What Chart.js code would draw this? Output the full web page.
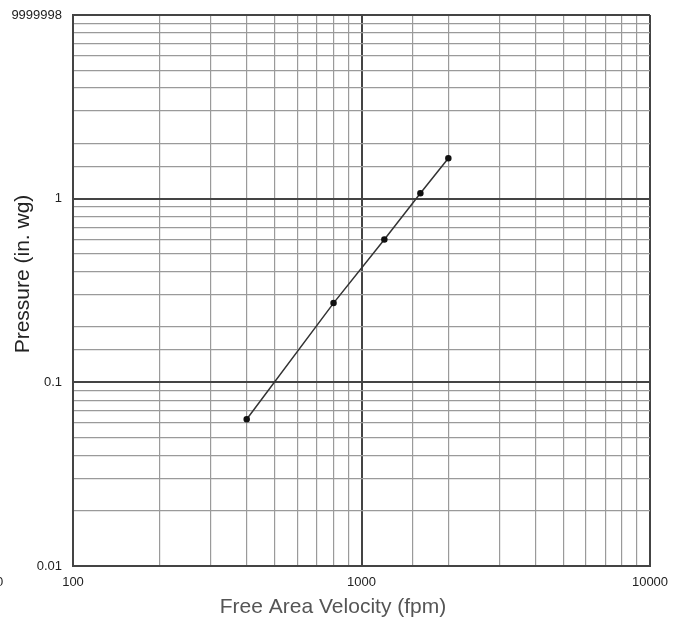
<!DOCTYPE html>
<html lang="en">
<head>
  <meta charset="UTF-8">
  <title>Pressure vs Free Area Velocity</title>
  <style>
    body { margin: 0; background: #fff; }
    canvas { display: block; }
  </style>
</head>
<body>
  <canvas id="pressureChart" width="681" height="621"></canvas>

  <script src="https://cdn.jsdelivr.net/npm/chart.js"></script>
  <script>
    // Free area velocity (fpm) and measured pressure drop (in. wg)
    const velocities = [400, 800, 1200, 1600, 2000];
    const pressures = [0.063, 0.27, 0.6, 1.07, 1.66];

    // Labelled ticks on each log axis
    const xTickLabels = { 100: '100', 1000: '1000', 10000: '10000' };
    const yTickLabels = { 0.01: '0.01', 0.1: '0.1', 1: '1', 10: '9999998' };

    const xTitle = 'Free Area Velocity (fpm)';
    const yTitle = 'Pressure (in. wg)';

    const isDecade = v => Math.abs(Math.log10(v) - Math.round(Math.log10(v))) < 1e-6;
    const labelFor = (map, v) => {
      for (const k in map) {
        if (Math.abs(Number(k) - v) / v < 1e-6) return map[k];
      }
      return '';
    };

    const family = 'Liberation Sans, Arial, sans-serif';
    const tickFont = { family: family, size: 13 };

    // axis titles sit off-centre from the plot, so they are drawn by hand
    const axisTitles = {
      id: 'axisTitles',
      afterDraw(chart) {
        const c = chart.ctx;
        c.save();
        c.font = '21px ' + family;
        c.textAlign = 'center';
        c.textBaseline = 'middle';
        c.fillStyle = '#555';
        c.fillText(xTitle, 333, 607);
        c.translate(23, 274);
        c.rotate(-Math.PI / 2);
        c.fillStyle = '#222';
        c.fillText(yTitle, 0, 0);
        c.restore();
        // clipped label stub at the far left edge
        c.save();
        c.font = '13px ' + family;
        c.fillStyle = '#222';
        c.textAlign = 'left';
        c.textBaseline = 'middle';
        c.fillText('0', -4, 582);
        c.restore();
      }
    };

    const ctx = document.getElementById('pressureChart').getContext('2d');

    new Chart(ctx, {
      type: 'line',
      data: {
        datasets: [{
          data: velocities.map((v, i) => ({ x: v, y: pressures[i] })),
          borderColor: '#333',
          borderWidth: 1.5,
          backgroundColor: '#111',
          pointRadius: 2.5,
          pointBorderColor: '#111',
          fill: false,
          tension: 0
        }]
      },
      options: {
        responsive: false,
        animation: false,
        layout: { padding: { top: 15, right: 31, left: 0, bottom: 0 } },
        plugins: {
          legend: { display: false },
          tooltip: { enabled: false }
        },
        scales: {
          x: {
            type: 'logarithmic',
            min: 100,
            max: 10000,
            afterFit: scale => { scale.height = 55; },
            grid: {
              color: c => isDecade(c.tick.value) ? '#444' : '#9a9a9a',
              lineWidth: c => isDecade(c.tick.value) ? 2 : 1.2,
              drawTicks: false
            },
            border: { color: '#444', width: 2 },
            ticks: {
              autoSkip: false,
              maxRotation: 0,
              padding: 9,
              color: '#222',
              font: tickFont,
              callback: v => labelFor(xTickLabels, v)
            }
          },
          y: {
            type: 'logarithmic',
            min: 0.01,
            max: 10,
            afterFit: scale => {
              scale.width = 73;
              scale.paddingTop = 0;
              scale.paddingBottom = 0;
            },
            grid: {
              color: c => isDecade(c.tick.value) ? '#444' : '#9a9a9a',
              lineWidth: c => isDecade(c.tick.value) ? 2 : 1.2,
              drawTicks: false
            },
            border: { color: '#444', width: 2 },
            ticks: {
              autoSkip: false,
              padding: 11,
              color: '#222',
              font: tickFont,
              callback: v => labelFor(yTickLabels, v)
            }
          }
        }
      },
      plugins: [axisTitles]
    });
  </script>
</body>
</html>
